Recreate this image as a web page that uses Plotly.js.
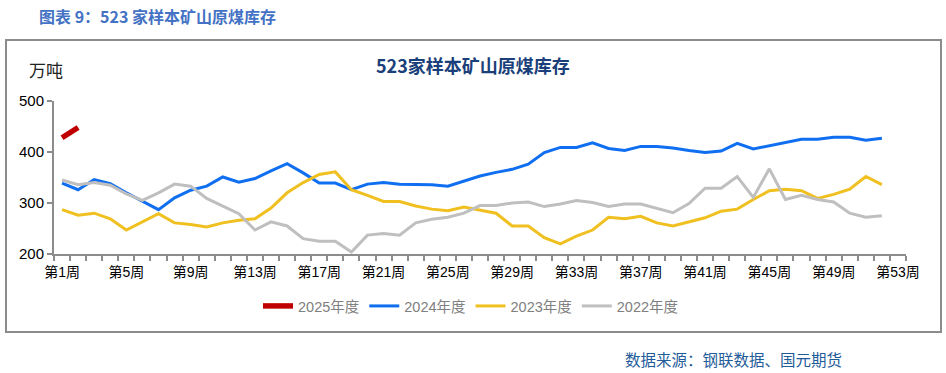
<!DOCTYPE html>
<html>
<head>
<meta charset="utf-8">
<script src="https://cdn.plot.ly/plotly-3.0.1.min.js"></script>
<style>
  html, body { margin: 0; padding: 0; background: #ffffff; }
  #chart { width: 946px; height: 373px; }
</style>
</head>
<body>
<div id="chart"></div>
<script>
// ---- data ----
const categories = [];
for (let i = 1; i <= 53; i++) categories.push('第' + i + '周');
const tickLabels = ['第1周','第5周','第9周','第13周','第17周','第21周','第25周','第29周','第33周','第37周','第41周','第45周','第49周','第53周'];
const seriesNames = ['2025年度', '2024年度', '2023年度', '2022年度'];
const s2025 = [428, 448];
const s2024 = [339,326,346,338,320,303,287,310,325,333,351,341,348,363,
               377,359,339,339,326,337,340,337,337,336,333,343,353,
               360,366,376,399,409,409,418,407,403,411,411,408,403,
               399,402,417,406,412,419,425,425,429,429,423,427];
const s2023 = [287,276,280,269,247,263,279,261,258,253,261,266,269,290,
               320,340,356,361,326,315,303,303,294,288,285,292,286,
               280,255,255,232,220,235,247,272,269,274,261,255,263,
               271,284,288,307,324,327,324,309,317,327,352,336];
const s2022 = [345,336,340,335,318,305,320,337,333,309,294,279,247,263,
               255,230,225,225,204,237,240,237,261,268,272,280,295,
               295,300,302,293,298,305,301,293,298,298,289,281,299,
               329,329,352,311,367,307,315,307,302,280,272,275];

// ---- geometry helpers (plot area in pixels) ----
const W = 946, H = 373;
const M = {l: 54, r: 40, t: 101, b: 119};
const PW = W - M.l - M.r, PH = H - M.t - M.b;
const px = x => (x - M.l) / PW;
const py = y => (H - M.b - y) / PH;

const mk = (vals, name, color, width, order) => ({
  x: categories.slice(0, vals.length),
  y: vals,
  name: name,
  type: 'scatter',
  mode: 'lines',
  line: {color: color, width: width, shape: 'linear'},
  hoverinfo: 'skip',
  legendrank: order
});

const traces = [
  mk(s2024, seriesNames[1], '#0f6ff0', 3, 2),
  mk(s2023, seriesNames[2], '#f0c020', 3, 3),
  mk(s2022, seriesNames[3], '#bfbfbf', 3, 4),
  mk(s2025, seriesNames[0], '#c00000', 5.5, 1)
];

const tickText = categories.map(c => tickLabels.includes(c) ? c : '');

const axisCol = '#8c8c8c';
const layout = {
  width: W, height: H,
  margin: M,
  paper_bgcolor: '#ffffff',
  plot_bgcolor: '#ffffff',
  showlegend: true,
  legend: {
    orientation: 'h',
    x: px(471), y: py(306),
    xanchor: 'center', yanchor: 'middle',
    font: {family: 'Liberation Sans, Noto Sans CJK SC, sans-serif', size: 14.5, color: '#808080'},
    traceorder: 'normal',
    itemwidth: 30,
    tracegroupgap: 0
  },
  xaxis: {
    type: 'category',
    categoryorder: 'array',
    categoryarray: categories,
    range: [-0.5, 52.5],
    tickmode: 'array',
    tickvals: categories,
    ticktext: tickText,
    tickson: 'boundaries',
    ticks: 'outside',
    ticklen: 5,
    tickwidth: 2,
    tickcolor: axisCol,
    ticklabelstandoff: 4,
    showline: true,
    linecolor: axisCol,
    linewidth: 2,
    showgrid: false,
    zeroline: false,
    tickangle: 0,
    tickfont: {family: 'Liberation Sans, Noto Sans CJK SC, sans-serif', size: 14, color: '#000000'},
    fixedrange: true
  },
  yaxis: {
    range: [200, 500],
    tickmode: 'array',
    tickvals: [200, 300, 400, 500],
    ticks: 'outside',
    ticklen: 5,
    tickwidth: 2,
    tickcolor: axisCol,
    showline: true,
    linecolor: axisCol,
    linewidth: 2,
    showgrid: false,
    zeroline: false,
    tickfont: {family: 'Liberation Sans, Arial, sans-serif', size: 15, color: '#000000'},
    fixedrange: true
  },
  shapes: [
    {type: 'rect', xref: 'paper', yref: 'paper',
     x0: px(6), x1: px(941), y0: py(332), y1: py(40),
     line: {color: '#8c8c8c', width: 2}, fillcolor: 'rgba(0,0,0,0)', layer: 'below'}
  ],
  annotations: [
    {text: '<b>图表 9：523 家样本矿山原煤库存</b>', xref: 'paper', yref: 'paper',
     x: px(37), y: py(16), xanchor: 'left', yanchor: 'middle', showarrow: false,
     font: {family: 'Noto Sans CJK SC, sans-serif', size: 16, color: '#4472c4'}},
    {text: '<b>523家样本矿山原煤库存</b>', xref: 'paper', yref: 'paper',
     x: px(473), y: py(65), xanchor: 'center', yanchor: 'middle', showarrow: false,
     font: {family: 'Noto Sans CJK SC, serif', size: 18, color: '#1a3f7a'}},
    {text: '万吨', xref: 'paper', yref: 'paper',
     x: px(27), y: py(69), xanchor: 'left', yanchor: 'middle', showarrow: false,
     font: {family: 'Noto Sans CJK SC, sans-serif', size: 17, color: '#222222'}},
    {text: '数据来源：钢联数据、国元期货', xref: 'paper', yref: 'paper',
     x: px(623), y: py(359), xanchor: 'left', yanchor: 'middle', showarrow: false,
     font: {family: 'Noto Sans CJK SC, sans-serif', size: 15.5, color: '#1f5c99'}}
  ]
};

Plotly.newPlot('chart', traces, layout, {displayModeBar: false, staticPlot: true});
</script>
</body>
</html>
